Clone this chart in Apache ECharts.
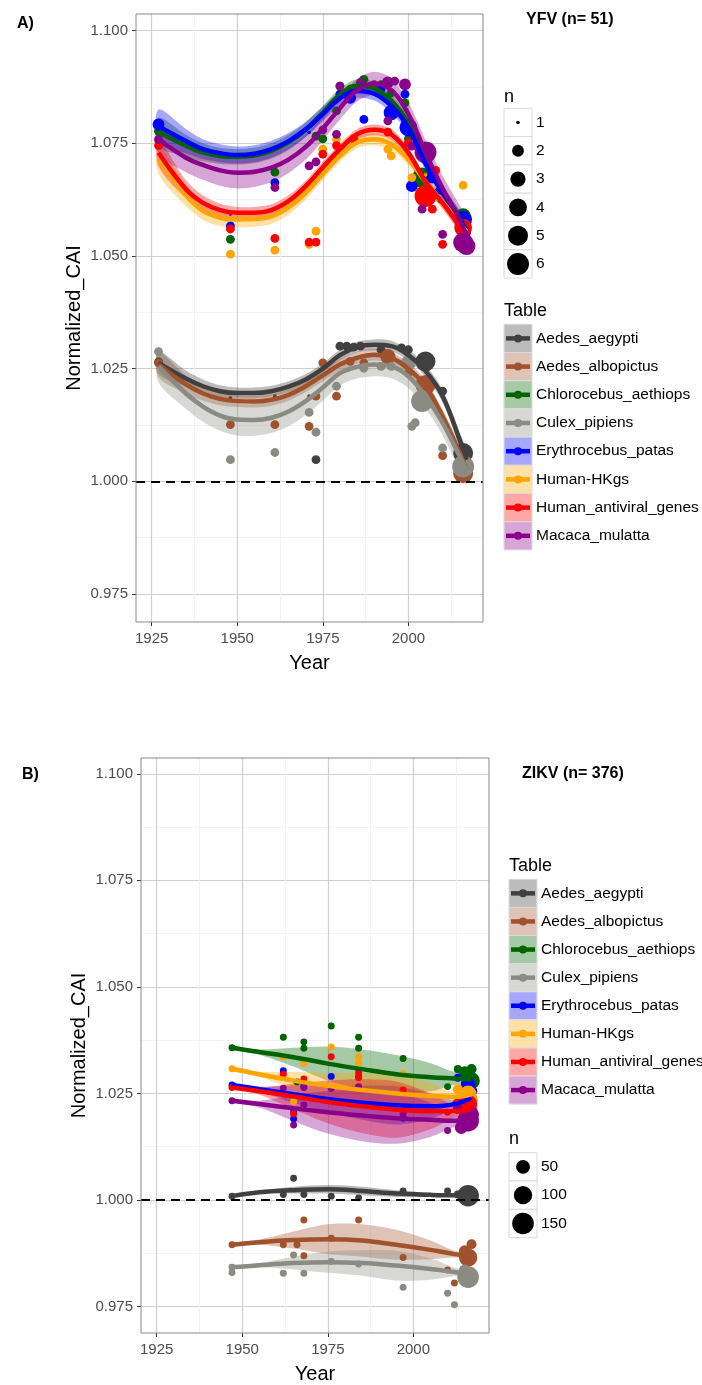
<!DOCTYPE html>
<html><head><meta charset="utf-8">
<script src="https://cdn.jsdelivr.net/npm/echarts@6/dist/echarts.min.js"></script>
<style>html,body{margin:0;padding:0;background:#fff}#c{width:702px;height:1385px}</style>
</head><body><div id="c"></div>
<script>
// ---------- categories / colours ----------
const tables = ['Aedes_aegypti','Aedes_albopictus','Chlorocebus_aethiops','Culex_pipiens','Erythrocebus_patas','Human-HKgs','Human_antiviral_genes','Macaca_mulatta'];
const colors = ['#404040','#a0522d','#006400','#8b8b83','#0000ff','#ffa500','#ff0000','#8b008b'];
const xTicks = [1925,1950,1975,2000];
const xMinor = [1937.5,1962.5,1987.5,2012.5];
const yTicks = [0.975,1.000,1.025,1.050,1.075,1.100];
const yMinor = [0.9875,1.0125,1.0375,1.0625,1.0875];
const sizeBreaksA = [1,2,3,4,5,6];
const sizeBreaksB = [50,100,150];

// ---------- Panel A (YFV) loess fits ----------
const A_years = [1927,1935,1940,1945,1950,1955,1960,1965,1970,1975,1980,1985,1990,1995,2000,2005,2010,2015,2017];
const A_fit_aegypti = [1.0263,1.0228,1.0211,1.0200,1.0196,1.0196,1.0200,1.0210,1.0226,1.0250,1.0280,1.0298,1.0303,1.0300,1.0280,1.0245,1.0189,1.0092,1.0048];
const A_se_aegypti = [0.0025,0.0018,0.0015,0.0013,0.0012,0.0012,0.0012,0.0012,0.0012,0.0012,0.0012,0.0012,0.0012,0.0012,0.0012,0.0013,0.0014,0.0016,0.0020];
const A_fit_albopictus = [1.0259,1.0215,1.0195,1.0183,1.0178,1.0177,1.0181,1.0192,1.0211,1.0235,1.0259,1.0274,1.0281,1.0274,1.0250,1.0211,1.0144,1.0063,1.0026];
const A_se_albopictus = [0.0028,0.0020,0.0016,0.0014,0.0013,0.0013,0.0013,0.0013,0.0013,0.0013,0.0013,0.0013,0.0013,0.0013,0.0013,0.0014,0.0015,0.0017,0.0021];
const A_fit_chlorocebus = [1.0775,1.0745,1.0730,1.0722,1.0720,1.0723,1.0733,1.0752,1.0780,1.0818,1.0858,1.0878,1.0872,1.0845,1.0795,1.0715,1.0645,1.0585,1.0558];
const A_se_chlorocebus = [0.0032,0.0024,0.0020,0.0018,0.0017,0.0017,0.0017,0.0017,0.0016,0.0015,0.0014,0.0014,0.0014,0.0014,0.0014,0.0015,0.0015,0.0016,0.0020];
const A_fit_culex = [1.0255,1.0195,1.0166,1.0146,1.0137,1.0136,1.0141,1.0155,1.0178,1.0208,1.0240,1.0254,1.0259,1.0255,1.0233,1.0189,1.0130,1.0055,1.0026];
const A_se_culex = [0.0035,0.0034,0.0034,0.0034,0.0035,0.0035,0.0034,0.0033,0.0031,0.0029,0.0027,0.0026,0.0026,0.0026,0.0026,0.0027,0.0028,0.0030,0.0034];
const A_fit_patas = [1.0788,1.0755,1.0737,1.0728,1.0724,1.0727,1.0737,1.0755,1.0781,1.0815,1.0850,1.0866,1.0860,1.0833,1.0785,1.0705,1.0640,1.0583,1.0555];
const A_se_patas = [0.0037,0.0027,0.0022,0.0020,0.0019,0.0019,0.0019,0.0018,0.0017,0.0016,0.0015,0.0015,0.0015,0.0015,0.0015,0.0016,0.0016,0.0017,0.0021];
const A_fit_hkgs = [1.0714,1.0635,1.0600,1.0585,1.0581,1.0582,1.0588,1.0608,1.0640,1.0682,1.0722,1.0752,1.0759,1.0748,1.0714,1.0665,1.0620,1.0572,1.0555];
const A_se_hkgs = [0.0032,0.0024,0.0020,0.0018,0.0017,0.0017,0.0017,0.0016,0.0015,0.0014,0.0013,0.0013,0.0013,0.0013,0.0013,0.0014,0.0015,0.0016,0.0020];
const A_fit_antiviral = [1.0729,1.0648,1.0618,1.0602,1.0596,1.0596,1.0602,1.0622,1.0655,1.0697,1.0737,1.0770,1.0780,1.0770,1.0729,1.0665,1.0618,1.0567,1.0548];
const A_se_antiviral = [0.0030,0.0020,0.0016,0.0014,0.0013,0.0013,0.0013,0.0013,0.0012,0.0012,0.0012,0.0012,0.0012,0.0012,0.0012,0.0013,0.0013,0.0015,0.0018];
const A_fit_macaca = [1.0759,1.0718,1.0702,1.0690,1.0685,1.0687,1.0696,1.0714,1.0742,1.0783,1.0828,1.0868,1.0883,1.0868,1.0815,1.0730,1.0650,1.0580,1.0545];
const A_se_macaca = [0.0032,0.0032,0.0033,0.0034,0.0035,0.0034,0.0032,0.0030,0.0028,0.0026,0.0025,0.0025,0.0026,0.0026,0.0026,0.0027,0.0028,0.0032,0.0040];

// ---------- Panel A observations [year, Normalized_CAI, n] ----------
const A_pts_aegypti = [[1927,1.0265,1.4],[1948,1.0185,1],[1961,1.0189,1],[1971,1.0189,1],[1973,1.0048,1.4],[1980,1.0300,1.4],[1982,1.0300,1.4],[1984,1.0298,1.4],[1986,1.0300,1.4],[1992,1.0292,1.4],[1998,1.0296,1.4],[2000,1.0292,1.4],[2005,1.0266,5],[2010,1.0200,1.4],[2016,1.0063,5]];
const A_pts_albopictus = [[1927,1.0263,1.4],[1948,1.0126,1.4],[1961,1.0126,1.4],[1971,1.0122,1.4],[1973,1.0189,1.4],[1975,1.0263,1.4],[1979,1.0189,1.4],[1983,1.0266,1.4],[1987,1.0263,1.4],[1994,1.0277,3],[2000,1.0240,1.4],[2005,1.0214,5],[2010,1.0057,1.4],[2016,1.0018,5]];
const A_pts_chlorocebus = [[1927,1.0777,1.4],[1948,1.0537,1.4],[1961,1.0686,1.4],[1973,1.0766,1.4],[1975,1.0760,1.4],[1979,1.0822,1.4],[1980,1.0877,1.4],[1983,1.0870,1.4],[1987,1.0892,1.4],[1992,1.0880,1.4],[1995,1.0862,1.4],[1999,1.0840,1.4],[2000,1.0760,1.4],[2004,1.0674,5],[2009,1.0622,1],[2016,1.0589,3]];
const A_pts_culex = [[1927,1.0288,1.4],[1948,1.0048,1.4],[1961,1.0064,1.4],[1971,1.0153,1.4],[1973,1.0109,1.4],[1979,1.0211,1.4],[1987,1.0251,1.4],[1992,1.0255,1.4],[1995,1.0255,1.4],[2000,1.0263,3],[2001,1.0122,1.4],[2002,1.0130,1.4],[2004,1.0178,6],[2010,1.0074,1.4],[2016,1.0033,6]];
const A_pts_patas = [[1927,1.0792,2],[1948,1.0567,1.4],[1961,1.0663,1.4],[1971,1.0774,1],[1980,1.0859,1.4],[1983,1.0851,2],[1987,1.0803,1.4],[1992,1.0870,1.4],[1995,1.0818,3],[1999,1.0859,1.4],[2000,1.0785,4],[2001,1.0655,2],[2007,1.0674,2],[2009,1.0644,1.4],[2016,1.0581,4],[2017,1.0552,1.4]];
const A_pts_hkgs = [[1927,1.0755,1.4],[1948,1.0504,1.4],[1961,1.0513,1.4],[1971,1.0526,1.4],[1973,1.0555,1.4],[1975,1.0737,1.4],[1979,1.0759,1.4],[1984,1.0760,1.4],[1994,1.0737,1.4],[1995,1.0722,1.4],[2001,1.0674,1.4],[2005,1.0680,1],[2009,1.0633,1],[2016,1.0657,1.4],[2016,1.0560,3]];
const A_pts_antiviral = [[1927,1.0745,1.4],[1948,1.0560,1.4],[1961,1.0539,1.4],[1971,1.0531,1.4],[1973,1.0531,1.4],[1975,1.0726,1.4],[1979,1.0745,1.4],[1984,1.0760,1.4],[1994,1.0775,1.4],[2000,1.0751,1.4],[2005,1.0633,6],[2007,1.0604,1.4],[2008,1.0690,1.4],[2010,1.0526,1.4],[2016,1.0563,4]];
const A_pts_macaca = [[1927,1.0759,1.4],[1948,1.0593,1],[1961,1.0652,1.4],[1971,1.0700,1.4],[1973,1.0709,1.4],[1975,1.0780,1.4],[1979,1.0770,1.4],[1980,1.0877,1.4],[1984,1.0870,1.4],[1986,1.0885,1.4],[1990,1.0880,1.4],[1994,1.0885,2],[1994,1.0800,1.4],[1996,1.0888,1.4],[1999,1.0881,2],[2001,1.0744,1.4],[2004,1.0604,1.4],[2005,1.0730,6],[2010,1.0548,1.4],[2016,1.0530,5],[2017,1.0522,4]];

// ---------- Panel B (ZIKV) loess fits ----------
const B_years = [1947,1955,1965,1975,1985,1995,2005,2012,2017];
const B_fit_aegypti = [1.0009,1.0018,1.0023,1.0025,1.0021,1.0015,1.0012,1.0011,1.0011];
const B_se_aegypti = [0.0002,0.0004,0.0008,0.0010,0.0010,0.0008,0.0005,0.0003,0.0003];
const B_fit_albopictus = [0.9895,0.9901,0.9906,0.9908,0.9905,0.9895,0.9883,0.9873,0.9869];
const B_se_albopictus = [0.0002,0.0006,0.0020,0.0035,0.0038,0.0035,0.0022,0.0008,0.0005];
const B_fit_chlorocebus = [1.0357,1.0347,1.0335,1.0320,1.0307,1.0295,1.0288,1.0285,1.0283];
const B_se_chlorocebus = [0.0003,0.0006,0.0022,0.0040,0.0046,0.0045,0.0033,0.0015,0.0010];
const B_fit_culex = [0.9842,0.9847,0.9852,0.9854,0.9852,0.9846,0.9838,0.9831,0.9826];
const B_se_culex = [0.0002,0.0005,0.0015,0.0025,0.0030,0.0035,0.0025,0.0010,0.0005];
const B_fit_patas = [1.0270,1.0260,1.0248,1.0237,1.0228,1.0222,1.0220,1.0225,1.0240];
const B_se_patas = [0.0003,0.0006,0.0020,0.0030,0.0040,0.0045,0.0030,0.0010,0.0008];
const B_fit_hkgs = [1.0308,1.0295,1.0280,1.0268,1.0258,1.0250,1.0244,1.0242,1.0248];
const B_se_hkgs = [0.0003,0.0006,0.0020,0.0030,0.0040,0.0045,0.0030,0.0010,0.0008];
const B_fit_antiviral = [1.0264,1.0255,1.0243,1.0230,1.0220,1.0212,1.0208,1.0208,1.0213];
const B_se_antiviral = [0.0003,0.0008,0.0030,0.0050,0.0063,0.0066,0.0042,0.0015,0.0010];
const B_fit_macaca = [1.0233,1.0225,1.0215,1.0206,1.0198,1.0192,1.0188,1.0186,1.0190];
const B_se_macaca = [0.0003,0.0008,0.0030,0.0050,0.0060,0.0060,0.0040,0.0015,0.0010];

// ---------- Panel B observations [year, Normalized_CAI, n] ----------
const B_pts_aegypti = [[1947,1.0009,6],[1962,1.0013,6],[1965,1.0051,6],[1968,1.0013,6],[1976,1.0009,6],[1984,1.0005,6],[1997,1.0021,6],[2010,1.0021,6],[2013,1.0013,10],[2016,1.0010,150]];
const B_pts_albopictus = [[1947,0.9895,6],[1962,0.9895,6],[1966,0.9895,6],[1968,0.9953,6],[1968,0.9869,6],[1976,0.9910,6],[1984,0.9953,6],[1997,0.9865,6],[2010,0.9836,6],[2012,0.9805,6],[2015,0.9880,30],[2016,0.9865,100],[2017,0.9896,20]];
const B_pts_chlorocebus = [[1947,1.0357,6],[1962,1.0382,6],[1966,1.0277,6],[1968,1.0371,6],[1968,1.0356,6],[1976,1.0408,6],[1984,1.0382,6],[1984,1.0356,6],[1997,1.0332,6],[2010,1.0266,6],[2013,1.0307,10],[2015,1.0300,30],[2017,1.0307,20],[2017,1.0280,80]];
const B_pts_culex = [[1947,0.9842,6],[1947,0.9830,6],[1962,0.9828,6],[1965,0.9871,6],[1968,0.9828,6],[1976,0.9856,6],[1984,0.9850,6],[1997,0.9795,6],[2010,0.9781,6],[2012,0.9754,6],[2015,0.9835,30],[2016,0.9819,150]];
const B_pts_patas = [[1947,1.0270,6],[1962,1.0303,6],[1965,1.0206,6],[1965,1.0190,6],[1968,1.0268,6],[1976,1.0290,6],[1984,1.0289,6],[1997,1.0192,6],[2013,1.0287,10],[2016,1.0270,60],[2017,1.0255,30]];
const B_pts_hkgs = [[1947,1.0308,6],[1962,1.0336,6],[1965,1.0231,6],[1968,1.0320,6],[1976,1.0359,6],[1984,1.0336,6],[1984,1.0322,6],[1997,1.0297,6],[2013,1.0260,20],[2016,1.0249,80],[2017,1.0235,40]];
const B_pts_antiviral = [[1947,1.0264,6],[1962,1.0295,6],[1965,1.0202,6],[1968,1.0284,6],[1976,1.0336,6],[1984,1.0299,6],[1984,1.0287,6],[1997,1.0258,6],[2010,1.0206,6],[2013,1.0225,30],[2016,1.0225,100],[2017,1.0210,30]];
const B_pts_macaca = [[1947,1.0233,6],[1962,1.0262,6],[1965,1.0176,6],[1968,1.0264,6],[1968,1.0223,6],[1976,1.0262,6],[1984,1.0266,6],[1997,1.0203,6],[2010,1.0163,6],[2013,1.0213,20],[2014,1.0170,40],[2016,1.0186,150],[2017,1.0200,60]];

// ---------- assembly ----------
const A_fits = [A_fit_aegypti,A_fit_albopictus,A_fit_chlorocebus,A_fit_culex,A_fit_patas,A_fit_hkgs,A_fit_antiviral,A_fit_macaca];
const A_ses = [A_se_aegypti,A_se_albopictus,A_se_chlorocebus,A_se_culex,A_se_patas,A_se_hkgs,A_se_antiviral,A_se_macaca];
const A_pts = [A_pts_aegypti,A_pts_albopictus,A_pts_chlorocebus,A_pts_culex,A_pts_patas,A_pts_hkgs,A_pts_antiviral,A_pts_macaca];
const B_fits = [B_fit_aegypti,B_fit_albopictus,B_fit_chlorocebus,B_fit_culex,B_fit_patas,B_fit_hkgs,B_fit_antiviral,B_fit_macaca];
const B_ses = [B_se_aegypti,B_se_albopictus,B_se_chlorocebus,B_se_culex,B_se_patas,B_se_hkgs,B_se_antiviral,B_se_macaca];
const B_pts = [B_pts_aegypti,B_pts_albopictus,B_pts_chlorocebus,B_pts_culex,B_pts_patas,B_pts_hkgs,B_pts_antiviral,B_pts_macaca];

const sizeA = n => 3.65 * (1 + 5 * Math.sqrt(Math.max(n - 1, 0) / 5));
const sizeB = n => 3.65 * (1 + 5 * Math.sqrt(Math.max(n - 1, 0) / 154));

const FONT = '"Liberation Sans", Arial, sans-serif';
const BAND_OP = 0.35;

function axesFor(g, grid) {
  const xs = [
    { type:'value', gridIndex:g, min:grid.xmin, max:grid.xmax,
      axisLine:{show:false},
      axisTick:{show:true, length:4, customValues:xTicks, lineStyle:{color:'#333', width:1}},
      axisLabel:{customValues:xTicks, fontSize:15, color:'#4d4d4d', fontFamily:FONT, margin:9, formatter:v=>String(v)},
      splitLine:{show:true, lineStyle:{color:'#cfcfcf', width:1.2}},
      name:'Year', nameLocation:'middle', nameGap:31, nameTextStyle:{fontSize:20, color:'#000', fontFamily:FONT} },
    { type:'value', gridIndex:g, min:grid.xmin, max:grid.xmax,
      axisLine:{show:false}, axisTick:{show:false, customValues:xMinor}, axisLabel:{show:false, customValues:xMinor},
      splitLine:{show:true, lineStyle:{color:'#f3f3f3', width:1}} }
  ];
  const ys = [
    { type:'value', gridIndex:g, min:0.96879, max:1.1037,
      axisLine:{show:false},
      axisTick:{show:true, length:4, customValues:yTicks, lineStyle:{color:'#333', width:1}},
      axisLabel:{customValues:yTicks, fontSize:15, color:'#4d4d4d', fontFamily:FONT, margin:8, formatter:v=>v.toFixed(3)},
      splitLine:{show:true, lineStyle:{color:'#cfcfcf', width:1.2}},
      name:'Normalized_CAI', nameLocation:'middle', nameGap:52, nameTextStyle:{fontSize:20, color:'#000', fontFamily:FONT} },
    { type:'value', gridIndex:g, min:0.96879, max:1.1037,
      axisLine:{show:false}, axisTick:{show:false, customValues:yMinor}, axisLabel:{show:false, customValues:yMinor},
      splitLine:{show:true, lineStyle:{color:'#f3f3f3', width:1}} }
  ];
  return {xs, ys};
}

function seriesFor(g, years, fits, ses, pts, sizeFn) {
  const xi = g*2, yi = g*2;
  const out = [];
  tables.forEach((t, k) => {
    const fit = fits[k], se = ses[k];
    out.push({
      type:'custom', name:t+'_band', xAxisIndex:xi, yAxisIndex:yi, silent:true, z:2,
      data: years.map((y,i)=>[y, fit[i]-se[i], fit[i]+se[i]]),
      encode:{x:0, y:[1,2]},
      renderItem:(params, api) => {
        if (params.dataIndex !== 0) return null;
        const up = years.map((y,i)=>api.coord([y, fit[i]+se[i]]));
        const lo = years.map((y,i)=>api.coord([y, fit[i]-se[i]])).reverse();
        return {type:'polygon', shape:{points:up.concat(lo), smooth:0.3}, style:{fill:colors[k], opacity:BAND_OP}};
      }
    });
  });
  tables.forEach((t, k) => {
    out.push({
      type:'scatter', name:t+'_pts', xAxisIndex:xi, yAxisIndex:yi, silent:true, z:3,
      data: pts[k], symbolSize: v => sizeFn(v[2]),
      itemStyle:{color:colors[k], opacity:1}
    });
  });
  tables.forEach((t, k) => {
    const s = {
      type:'line', name:t, xAxisIndex:xi, yAxisIndex:yi, silent:true, z:4,
      data: years.map((y,i)=>[y, fits[k][i]]), smooth:0.4, symbol:'none',
      lineStyle:{color:colors[k], width:4.5}
    };
    if (k === tables.length-1) {
      s.markLine = {silent:true, symbol:'none', animation:false, label:{show:false},
        lineStyle:{type:[9,6], color:'#000', width:2}, data:[{yAxis:1.0}]};
    }
    out.push(s);
  });
  return out;
}

function tableLegend(x, titleY, keyTop, step) {
  const els = [{type:'text', style:{text:'Table', x:x, y:titleY, fontSize:18, fontFamily:FONT, fill:'#000', verticalAlign:'middle'}}];
  tables.forEach((t,k) => {
    const y = keyTop + k*step;
    els.push({type:'rect', shape:{x:x, y:y, width:28, height:step}, style:{fill:'#fff', stroke:'#d9d9d9', lineWidth:1}});
    els.push({type:'rect', shape:{x:x+0.5, y:y+0.5, width:27, height:step-1}, style:{fill:colors[k], opacity:BAND_OP}});
    els.push({type:'line', shape:{x1:x+2, y1:y+step/2, x2:x+26, y2:y+step/2}, style:{stroke:colors[k], lineWidth:4.5}});
    els.push({type:'circle', shape:{cx:x+14, cy:y+step/2, r:4}, style:{fill:colors[k]}});
    els.push({type:'text', style:{text:t, x:x+32, y:y+step/2, fontSize:15.5, fontFamily:FONT, fill:'#000', verticalAlign:'middle'}});
  });
  return els;
}
function sizeLegend(x, titleY, keyTop, step, breaks, sizeFn) {
  const els = [{type:'text', style:{text:'n', x:x, y:titleY, fontSize:18, fontFamily:FONT, fill:'#000', verticalAlign:'middle'}}];
  breaks.forEach((b,k) => {
    const y = keyTop + k*step;
    els.push({type:'rect', shape:{x:x, y:y, width:28, height:step}, style:{fill:'#fff', stroke:'#d9d9d9', lineWidth:1}});
    els.push({type:'circle', shape:{cx:x+14, cy:y+step/2, r:sizeFn(b)/2}, style:{fill:'#000'}});
    els.push({type:'text', style:{text:String(b), x:x+32, y:y+step/2, fontSize:15.5, fontFamily:FONT, fill:'#000', verticalAlign:'middle'}});
  });
  return els;
}

const gridA = {left:136, top:14, width:347, height:608, xmin:1920.42, xmax:2021.8};
const gridB = {left:141, top:758, width:348, height:578, xmin:1920.41, xmax:2022.1};
const axA = axesFor(0, gridA), axB = axesFor(1, gridB);
// fix minor axis grid indices
const xAxes = [axA.xs[0], axA.xs[1], axB.xs[0], axB.xs[1]];
const yAxes = [axA.ys[0], axA.ys[1], axB.ys[0], axB.ys[1]];

const graphics = [
  {type:'text', style:{text:'A)', x:17, y:24, fontSize:16, fontWeight:'bold', fontFamily:FONT, fill:'#000', verticalAlign:'middle'}},
  {type:'text', style:{text:'YFV (n= 51)', x:526, y:20, fontSize:16, fontWeight:'bold', fontFamily:FONT, fill:'#000', verticalAlign:'middle'}},
  {type:'text', style:{text:'B)', x:22, y:775, fontSize:16, fontWeight:'bold', fontFamily:FONT, fill:'#000', verticalAlign:'middle'}},
  {type:'text', style:{text:'ZIKV (n= 376)', x:522, y:774, fontSize:16, fontWeight:'bold', fontFamily:FONT, fill:'#000', verticalAlign:'middle'}}
].concat(
  sizeLegend(504, 97, 108.3, 28.3, sizeBreaksA, sizeA),
  tableLegend(504, 311, 324.3, 28.2),
  tableLegend(509, 866, 879.3, 28.1),
  sizeLegend(509, 1139, 1152.7, 28.3, sizeBreaksB, sizeB)
);

const chart = echarts.init(document.getElementById('c'), null, {renderer:'canvas'});
chart.setOption({
  animation:false,
  backgroundColor:'#fff',
  grid:[
    {left:gridA.left, top:gridA.top, width:gridA.width, height:gridA.height, show:true, borderColor:'#8a8a8a', borderWidth:1, backgroundColor:'transparent', z:10},
    {left:gridB.left, top:gridB.top, width:gridB.width, height:gridB.height, show:true, borderColor:'#8a8a8a', borderWidth:1, backgroundColor:'transparent', z:10}
  ],
  xAxis: xAxes,
  yAxis: yAxes,
  series: seriesFor(0, A_years, A_fits, A_ses, A_pts, sizeA).concat(seriesFor(1, B_years, B_fits, B_ses, B_pts, sizeB)),
  graphic: graphics
});
</script></body></html>
